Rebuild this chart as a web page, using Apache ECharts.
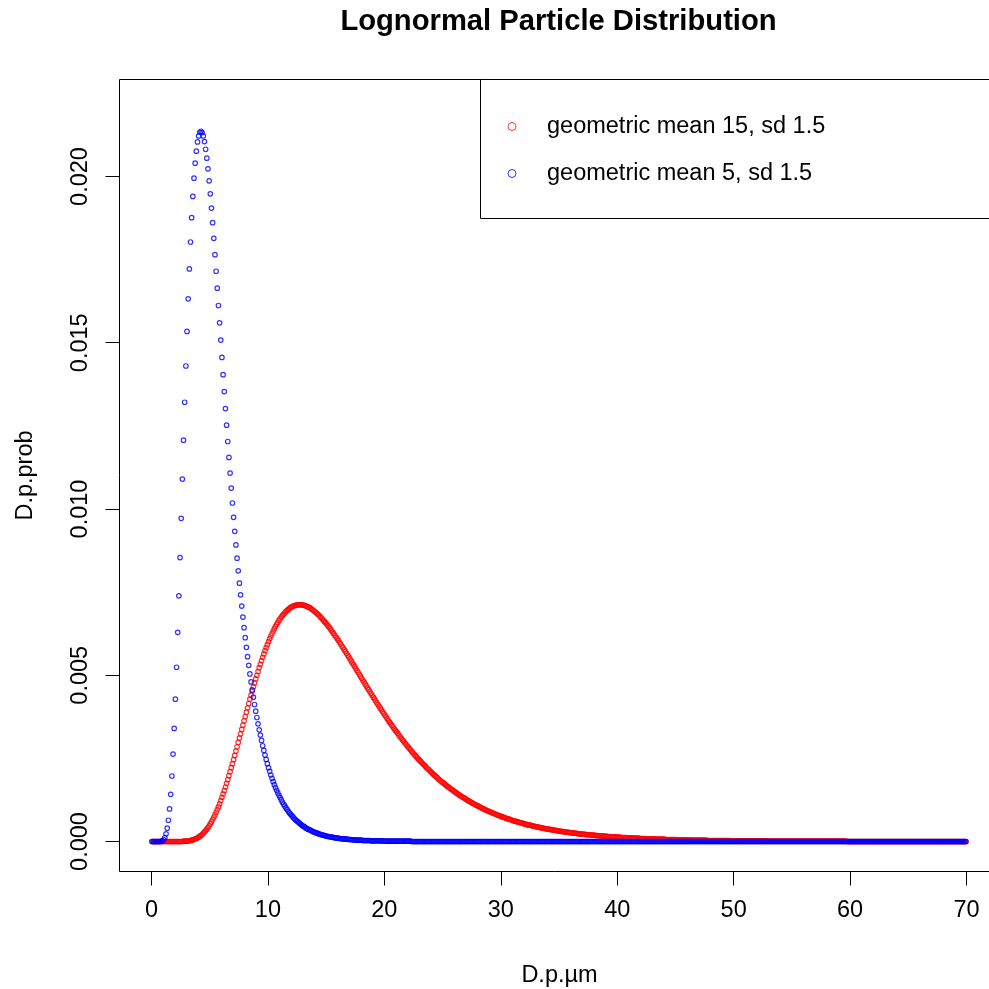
<!DOCTYPE html>
<html><head><meta charset="utf-8">
<script src="https://cdn.jsdelivr.net/npm/echarts@6/dist/echarts.min.js"></script>
<style>html,body{margin:0;padding:0;background:#fff}#c{width:989px;height:989px}</style>
</head><body><div id="c"></div>
<script>
const titleText = 'Lognormal Particle Distribution';
const seriesNames = ['geometric mean 15, sd 1.5', 'geometric mean 5, sd 1.5'];
const xName = 'D.p.\u00b5m';
const yName = 'D.p.prob';
const xTicks = [0, 10, 20, 30, 40, 50, 60, 70];
const yTicks = [0, 0.005, 0.010, 0.015, 0.020];

const xs = [
0.05,0.15,0.25,0.35,0.45,0.55,0.65,0.75,0.85,0.95,
1.05,1.15,1.25,1.35,1.45,1.55,1.65,1.75,1.85,1.95,
2.05,2.15,2.25,2.35,2.45,2.55,2.65,2.75,2.85,2.95,
3.05,3.15,3.25,3.35,3.45,3.55,3.65,3.75,3.85,3.95,
4.05,4.15,4.25,4.35,4.45,4.55,4.65,4.75,4.85,4.95,
5.05,5.15,5.25,5.35,5.45,5.55,5.65,5.75,5.85,5.95,
6.05,6.15,6.25,6.35,6.45,6.55,6.65,6.75,6.85,6.95,
7.05,7.15,7.25,7.35,7.45,7.55,7.65,7.75,7.85,7.95,
8.05,8.15,8.25,8.35,8.45,8.55,8.65,8.75,8.85,8.95,
9.05,9.15,9.25,9.35,9.45,9.55,9.65,9.75,9.85,9.95,
10.05,10.15,10.25,10.35,10.45,10.55,10.65,10.75,10.85,10.95,
11.05,11.15,11.25,11.35,11.45,11.55,11.65,11.75,11.85,11.95,
12.05,12.15,12.25,12.35,12.45,12.55,12.65,12.75,12.85,12.95,
13.05,13.15,13.25,13.35,13.45,13.55,13.65,13.75,13.85,13.95,
14.05,14.15,14.25,14.35,14.45,14.55,14.65,14.75,14.85,14.95,
15.05,15.15,15.25,15.35,15.45,15.55,15.65,15.75,15.85,15.95,
16.05,16.15,16.25,16.35,16.45,16.55,16.65,16.75,16.85,16.95,
17.05,17.15,17.25,17.35,17.45,17.55,17.65,17.75,17.85,17.95,
18.05,18.15,18.25,18.35,18.45,18.55,18.65,18.75,18.85,18.95,
19.05,19.15,19.25,19.35,19.45,19.55,19.65,19.75,19.85,19.95,
20.05,20.15,20.25,20.35,20.45,20.55,20.65,20.75,20.85,20.95,
21.05,21.15,21.25,21.35,21.45,21.55,21.65,21.75,21.85,21.95,
22.05,22.15,22.25,22.35,22.45,22.55,22.65,22.75,22.85,22.95,
23.05,23.15,23.25,23.35,23.45,23.55,23.65,23.75,23.85,23.95,
24.05,24.15,24.25,24.35,24.45,24.55,24.65,24.75,24.85,24.95,
25.05,25.15,25.25,25.35,25.45,25.55,25.65,25.75,25.85,25.95,
26.05,26.15,26.25,26.35,26.45,26.55,26.65,26.75,26.85,26.95,
27.05,27.15,27.25,27.35,27.45,27.55,27.65,27.75,27.85,27.95,
28.05,28.15,28.25,28.35,28.45,28.55,28.65,28.75,28.85,28.95,
29.05,29.15,29.25,29.35,29.45,29.55,29.65,29.75,29.85,29.95,
30.05,30.15,30.25,30.35,30.45,30.55,30.65,30.75,30.85,30.95,
31.05,31.15,31.25,31.35,31.45,31.55,31.65,31.75,31.85,31.95,
32.05,32.15,32.25,32.35,32.45,32.55,32.65,32.75,32.85,32.95,
33.05,33.15,33.25,33.35,33.45,33.55,33.65,33.75,33.85,33.95,
34.05,34.15,34.25,34.35,34.45,34.55,34.65,34.75,34.85,34.95,
35.05,35.15,35.25,35.35,35.45,35.55,35.65,35.75,35.85,35.95,
36.05,36.15,36.25,36.35,36.45,36.55,36.65,36.75,36.85,36.95,
37.05,37.15,37.25,37.35,37.45,37.55,37.65,37.75,37.85,37.95,
38.05,38.15,38.25,38.35,38.45,38.55,38.65,38.75,38.85,38.95,
39.05,39.15,39.25,39.35,39.45,39.55,39.65,39.75,39.85,39.95,
40.05,40.15,40.25,40.35,40.45,40.55,40.65,40.75,40.85,40.95,
41.05,41.15,41.25,41.35,41.45,41.55,41.65,41.75,41.85,41.95,
42.05,42.15,42.25,42.35,42.45,42.55,42.65,42.75,42.85,42.95,
43.05,43.15,43.25,43.35,43.45,43.55,43.65,43.75,43.85,43.95,
44.05,44.15,44.25,44.35,44.45,44.55,44.65,44.75,44.85,44.95,
45.05,45.15,45.25,45.35,45.45,45.55,45.65,45.75,45.85,45.95,
46.05,46.15,46.25,46.35,46.45,46.55,46.65,46.75,46.85,46.95,
47.05,47.15,47.25,47.35,47.45,47.55,47.65,47.75,47.85,47.95,
48.05,48.15,48.25,48.35,48.45,48.55,48.65,48.75,48.85,48.95,
49.05,49.15,49.25,49.35,49.45,49.55,49.65,49.75,49.85,49.95,
50.05,50.15,50.25,50.35,50.45,50.55,50.65,50.75,50.85,50.95,
51.05,51.15,51.25,51.35,51.45,51.55,51.65,51.75,51.85,51.95,
52.05,52.15,52.25,52.35,52.45,52.55,52.65,52.75,52.85,52.95,
53.05,53.15,53.25,53.35,53.45,53.55,53.65,53.75,53.85,53.95,
54.05,54.15,54.25,54.35,54.45,54.55,54.65,54.75,54.85,54.95,
55.05,55.15,55.25,55.35,55.45,55.55,55.65,55.75,55.85,55.95,
56.05,56.15,56.25,56.35,56.45,56.55,56.65,56.75,56.85,56.95,
57.05,57.15,57.25,57.35,57.45,57.55,57.65,57.75,57.85,57.95,
58.05,58.15,58.25,58.35,58.45,58.55,58.65,58.75,58.85,58.95,
59.05,59.15,59.25,59.35,59.45,59.55,59.65,59.75,59.85,59.95,
60.05,60.15,60.25,60.35,60.45,60.55,60.65,60.75,60.85,60.95,
61.05,61.15,61.25,61.35,61.45,61.55,61.65,61.75,61.85,61.95,
62.05,62.15,62.25,62.35,62.45,62.55,62.65,62.75,62.85,62.95,
63.05,63.15,63.25,63.35,63.45,63.55,63.65,63.75,63.85,63.95,
64.05,64.15,64.25,64.35,64.45,64.55,64.65,64.75,64.85,64.95,
65.05,65.15,65.25,65.35,65.45,65.55,65.65,65.75,65.85,65.95,
66.05,66.15,66.25,66.35,66.45,66.55,66.65,66.75,66.85,66.95,
67.05,67.15,67.25,67.35,67.45,67.55,67.65,67.75,67.85,67.95,
68.05,68.15,68.25,68.35,68.45,68.55,68.65,68.75,68.85,68.95,
69.05,69.15,69.25,69.35,69.45,69.55,69.65,69.75,69.85,69.95
];

const redY = [
/* 0 */ 0,0,0,0,0,0,0,0,0,0,
/* 1 */ 0,0,0,0,0,0,0,0,0,0,
/* 2 */ 0,0,0,0,0,0,0,0.00001,0.00001,0.00001,
/* 3 */ 0.00001,0.00002,0.00002,0.00003,0.00004,0.00005,0.00006,0.00008,0.00009,0.00011,
/* 4 */ 0.00013,0.00016,0.00018,0.00021,0.00025,0.00029,0.00033,0.00037,0.00042,0.00047,
/* 5 */ 0.00053,0.00059,0.00066,0.00073,0.00080,0.00088,0.00096,0.00104,0.00113,0.00123,
/* 6 */ 0.00133,0.00143,0.00153,0.00164,0.00175,0.00186,0.00198,0.00210,0.00222,0.00234,
/* 7 */ 0.00246,0.00259,0.00272,0.00285,0.00298,0.00311,0.00324,0.00337,0.00350,0.00363,
/* 8 */ 0.00376,0.00389,0.00402,0.00415,0.00428,0.00440,0.00453,0.00465,0.00477,0.00489,
/* 9 */ 0.00500,0.00511,0.00523,0.00533,0.00544,0.00554,0.00564,0.00574,0.00583,0.00592,
/* 10 */ 0.00601,0.00610,0.00618,0.00625,0.00633,0.00640,0.00647,0.00653,0.00659,0.00665,
/* 11 */ 0.00670,0.00675,0.00680,0.00684,0.00688,0.00692,0.00695,0.00698,0.00701,0.00704,
/* 12 */ 0.00706,0.00708,0.00709,0.00710,0.00711,0.00712,0.00712,0.00712,0.00712,0.00711,
/* 13 */ 0.00711,0.00710,0.00709,0.00707,0.00706,0.00704,0.00702,0.00699,0.00697,0.00694,
/* 14 */ 0.00691,0.00688,0.00685,0.00682,0.00678,0.00674,0.00670,0.00666,0.00662,0.00658,
/* 15 */ 0.00654,0.00649,0.00645,0.00640,0.00635,0.00630,0.00625,0.00620,0.00615,0.00610,
/* 16 */ 0.00605,0.00599,0.00594,0.00588,0.00583,0.00577,0.00572,0.00566,0.00560,0.00555,
/* 17 */ 0.00549,0.00543,0.00537,0.00532,0.00526,0.00520,0.00514,0.00509,0.00503,0.00497,
/* 18 */ 0.00491,0.00485,0.00480,0.00474,0.00468,0.00462,0.00457,0.00451,0.00445,0.00440,
/* 19 */ 0.00434,0.00429,0.00423,0.00417,0.00412,0.00407,0.00401,0.00396,0.00390,0.00385,
/* 20 */ 0.00380,0.00375,0.00369,0.00364,0.00359,0.00354,0.00349,0.00344,0.00339,0.00334,
/* 21 */ 0.00330,0.00325,0.00320,0.00315,0.00311,0.00306,0.00302,0.00297,0.00293,0.00288,
/* 22 */ 0.00284,0.00280,0.00276,0.00271,0.00267,0.00263,0.00259,0.00255,0.00251,0.00247,
/* 23 */ 0.00243,0.00240,0.00236,0.00232,0.00229,0.00225,0.00221,0.00218,0.00215,0.00211,
/* 24 */ 0.00208,0.00204,0.00201,0.00198,0.00195,0.00192,0.00188,0.00185,0.00182,0.00179,
/* 25 */ 0.00177,0.00174,0.00171,0.00168,0.00165,0.00163,0.00160,0.00157,0.00155,0.00152,
/* 26 */ 0.00150,0.00147,0.00145,0.00142,0.00140,0.00137,0.00135,0.00133,0.00131,0.00129,
/* 27 */ 0.00126,0.00124,0.00122,0.00120,0.00118,0.00116,0.00114,0.00112,0.00110,0.00108,
/* 28 */ 0.00107,0.00105,0.00103,0.00101,0.00099,0.00098,0.00096,0.00094,0.00093,0.00091,
/* 29 */ 0.00090,0.00088,0.00087,0.00085,0.00084,0.00082,0.00081,0.00079,0.00078,0.00077,
/* 30 */ 0.00075,0.00074,0.00073,0.00072,0.00070,0.00069,0.00068,0.00067,0.00066,0.00064,
/* 31 */ 0.00063,0.00062,0.00061,0.00060,0.00059,0.00058,0.00057,0.00056,0.00055,0.00054,
/* 32 */ 0.00053,0.00052,0.00051,0.00050,0.00050,0.00049,0.00048,0.00047,0.00046,0.00045,
/* 33 */ 0.00045,0.00044,0.00043,0.00042,0.00042,0.00041,0.00040,0.00039,0.00039,0.00038,
/* 34 */ 0.00037,0.00037,0.00036,0.00036,0.00035,0.00034,0.00034,0.00033,0.00033,0.00032,
/* 35 */ 0.00031,0.00031,0.00030,0.00030,0.00029,0.00029,0.00028,0.00028,0.00027,0.00027,
/* 36 */ 0.00026,0.00026,0.00025,0.00025,0.00025,0.00024,0.00024,0.00023,0.00023,0.00022,
/* 37 */ 0.00022,0.00022,0.00021,0.00021,0.00021,0.00020,0.00020,0.00020,0.00019,0.00019,
/* 38 */ 0.00019,0.00018,0.00018,0.00018,0.00017,0.00017,0.00017,0.00016,0.00016,0.00016,
/* 39 */ 0.00016,0.00015,0.00015,0.00015,0.00015,0.00014,0.00014,0.00014,0.00014,0.00013,
/* 40 */ 0.00013,0.00013,0.00013,0.00012,0.00012,0.00012,0.00012,0.00012,0.00011,0.00011,
/* 41 */ 0.00011,0.00011,0.00011,0.00010,0.00010,0.00010,0.00010,0.00010,0.00010,0.00009,
/* 42 */ 0.00009,0.00009,0.00009,0.00009,0.00009,0.00008,0.00008,0.00008,0.00008,0.00008,
/* 43 */ 0.00008,0.00008,0.00008,0.00007,0.00007,0.00007,0.00007,0.00007,0.00007,0.00007,
/* 44 */ 0.00007,0.00006,0.00006,0.00006,0.00006,0.00006,0.00006,0.00006,0.00006,0.00006,
/* 45 */ 0.00006,0.00005,0.00005,0.00005,0.00005,0.00005,0.00005,0.00005,0.00005,0.00005,
/* 46 */ 0.00005,0.00005,0.00004,0.00004,0.00004,0.00004,0.00004,0.00004,0.00004,0.00004,
/* 47 */ 0.00004,0.00004,0.00004,0.00004,0.00004,0.00004,0.00004,0.00003,0.00003,0.00003,
/* 48 */ 0.00003,0.00003,0.00003,0.00003,0.00003,0.00003,0.00003,0.00003,0.00003,0.00003,
/* 49 */ 0.00003,0.00003,0.00003,0.00003,0.00003,0.00003,0.00003,0.00002,0.00002,0.00002,
/* 50 */ 0.00002,0.00002,0.00002,0.00002,0.00002,0.00002,0.00002,0.00002,0.00002,0.00002,
/* 51 */ 0.00002,0.00002,0.00002,0.00002,0.00002,0.00002,0.00002,0.00002,0.00002,0.00002,
/* 52 */ 0.00002,0.00002,0.00002,0.00002,0.00002,0.00002,0.00002,0.00002,0.00002,0.00001,
/* 53 */ 0.00001,0.00001,0.00001,0.00001,0.00001,0.00001,0.00001,0.00001,0.00001,0.00001,
/* 54 */ 0.00001,0.00001,0.00001,0.00001,0.00001,0.00001,0.00001,0.00001,0.00001,0.00001,
/* 55 */ 0.00001,0.00001,0.00001,0.00001,0.00001,0.00001,0.00001,0.00001,0.00001,0.00001,
/* 56 */ 0.00001,0.00001,0.00001,0.00001,0.00001,0.00001,0.00001,0.00001,0.00001,0.00001,
/* 57 */ 0.00001,0.00001,0.00001,0.00001,0.00001,0.00001,0.00001,0.00001,0.00001,0.00001,
/* 58 */ 0.00001,0.00001,0.00001,0.00001,0.00001,0.00001,0.00001,0.00001,0.00001,0.00001,
/* 59 */ 0.00001,0.00001,0.00001,0.00001,0.00001,0.00001,0.00001,0,0,0,
/* 60 */ 0,0,0,0,0,0,0,0,0,0,
/* 61 */ 0,0,0,0,0,0,0,0,0,0,
/* 62 */ 0,0,0,0,0,0,0,0,0,0,
/* 63 */ 0,0,0,0,0,0,0,0,0,0,
/* 64 */ 0,0,0,0,0,0,0,0,0,0,
/* 65 */ 0,0,0,0,0,0,0,0,0,0,
/* 66 */ 0,0,0,0,0,0,0,0,0,0,
/* 67 */ 0,0,0,0,0,0,0,0,0,0,
/* 68 */ 0,0,0,0,0,0,0,0,0,0,
/* 69 */ 0,0,0,0,0,0,0,0,0,0
];

const blueY = [
/* 0 */ 0,0,0,0,0,0,0,0,0.00001,0.00002,
/* 1 */ 0.00006,0.00012,0.00023,0.00040,0.00064,0.00098,0.00142,0.00197,0.00263,0.00340,
/* 2 */ 0.00428,0.00524,0.00629,0.00739,0.00854,0.00972,0.01090,0.01207,0.01321,0.01430,
/* 3 */ 0.01534,0.01632,0.01722,0.01803,0.01876,0.01940,0.01995,0.02040,0.02076,0.02104,
/* 4 */ 0.02122,0.02133,0.02136,0.02132,0.02122,0.02105,0.02082,0.02055,0.02023,0.01987,
/* 5 */ 0.01948,0.01905,0.01861,0.01814,0.01765,0.01715,0.01664,0.01612,0.01560,0.01508,
/* 6 */ 0.01456,0.01404,0.01353,0.01302,0.01252,0.01203,0.01155,0.01108,0.01063,0.01018,
/* 7 */ 0.00975,0.00933,0.00892,0.00852,0.00814,0.00777,0.00742,0.00708,0.00675,0.00643,
/* 8 */ 0.00613,0.00584,0.00556,0.00530,0.00504,0.00480,0.00456,0.00434,0.00412,0.00392,
/* 9 */ 0.00373,0.00354,0.00336,0.00320,0.00304,0.00288,0.00274,0.00260,0.00247,0.00234,
/* 10 */ 0.00222,0.00211,0.00200,0.00190,0.00180,0.00171,0.00162,0.00154,0.00146,0.00139,
/* 11 */ 0.00132,0.00125,0.00118,0.00112,0.00107,0.00101,0.00096,0.00091,0.00086,0.00082,
/* 12 */ 0.00078,0.00074,0.00070,0.00066,0.00063,0.00060,0.00057,0.00054,0.00051,0.00048,
/* 13 */ 0.00046,0.00044,0.00041,0.00039,0.00037,0.00035,0.00034,0.00032,0.00030,0.00029,
/* 14 */ 0.00027,0.00026,0.00025,0.00023,0.00022,0.00021,0.00020,0.00019,0.00018,0.00017,
/* 15 */ 0.00016,0.00015,0.00015,0.00014,0.00013,0.00013,0.00012,0.00011,0.00011,0.00010,
/* 16 */ 0.00010,0.00009,0.00009,0.00008,0.00008,0.00008,0.00007,0.00007,0.00007,0.00006,
/* 17 */ 0.00006,0.00006,0.00005,0.00005,0.00005,0.00005,0.00004,0.00004,0.00004,0.00004,
/* 18 */ 0.00004,0.00003,0.00003,0.00003,0.00003,0.00003,0.00003,0.00003,0.00002,0.00002,
/* 19 */ 0.00002,0.00002,0.00002,0.00002,0.00002,0.00002,0.00002,0.00002,0.00002,0.00001,
/* 20 */ 0.00001,0.00001,0.00001,0.00001,0.00001,0.00001,0.00001,0.00001,0.00001,0.00001,
/* 21 */ 0.00001,0.00001,0.00001,0.00001,0.00001,0.00001,0.00001,0.00001,0.00001,0.00001,
/* 22 */ 0.00001,0.00001,0.00001,0,0,0,0,0,0,0,
/* 23 */ 0,0,0,0,0,0,0,0,0,0,
/* 24 */ 0,0,0,0,0,0,0,0,0,0,
/* 25 */ 0,0,0,0,0,0,0,0,0,0,
/* 26 */ 0,0,0,0,0,0,0,0,0,0,
/* 27 */ 0,0,0,0,0,0,0,0,0,0,
/* 28 */ 0,0,0,0,0,0,0,0,0,0,
/* 29 */ 0,0,0,0,0,0,0,0,0,0,
/* 30 */ 0,0,0,0,0,0,0,0,0,0,
/* 31 */ 0,0,0,0,0,0,0,0,0,0,
/* 32 */ 0,0,0,0,0,0,0,0,0,0,
/* 33 */ 0,0,0,0,0,0,0,0,0,0,
/* 34 */ 0,0,0,0,0,0,0,0,0,0,
/* 35 */ 0,0,0,0,0,0,0,0,0,0,
/* 36 */ 0,0,0,0,0,0,0,0,0,0,
/* 37 */ 0,0,0,0,0,0,0,0,0,0,
/* 38 */ 0,0,0,0,0,0,0,0,0,0,
/* 39 */ 0,0,0,0,0,0,0,0,0,0,
/* 40 */ 0,0,0,0,0,0,0,0,0,0,
/* 41 */ 0,0,0,0,0,0,0,0,0,0,
/* 42 */ 0,0,0,0,0,0,0,0,0,0,
/* 43 */ 0,0,0,0,0,0,0,0,0,0,
/* 44 */ 0,0,0,0,0,0,0,0,0,0,
/* 45 */ 0,0,0,0,0,0,0,0,0,0,
/* 46 */ 0,0,0,0,0,0,0,0,0,0,
/* 47 */ 0,0,0,0,0,0,0,0,0,0,
/* 48 */ 0,0,0,0,0,0,0,0,0,0,
/* 49 */ 0,0,0,0,0,0,0,0,0,0,
/* 50 */ 0,0,0,0,0,0,0,0,0,0,
/* 51 */ 0,0,0,0,0,0,0,0,0,0,
/* 52 */ 0,0,0,0,0,0,0,0,0,0,
/* 53 */ 0,0,0,0,0,0,0,0,0,0,
/* 54 */ 0,0,0,0,0,0,0,0,0,0,
/* 55 */ 0,0,0,0,0,0,0,0,0,0,
/* 56 */ 0,0,0,0,0,0,0,0,0,0,
/* 57 */ 0,0,0,0,0,0,0,0,0,0,
/* 58 */ 0,0,0,0,0,0,0,0,0,0,
/* 59 */ 0,0,0,0,0,0,0,0,0,0,
/* 60 */ 0,0,0,0,0,0,0,0,0,0,
/* 61 */ 0,0,0,0,0,0,0,0,0,0,
/* 62 */ 0,0,0,0,0,0,0,0,0,0,
/* 63 */ 0,0,0,0,0,0,0,0,0,0,
/* 64 */ 0,0,0,0,0,0,0,0,0,0,
/* 65 */ 0,0,0,0,0,0,0,0,0,0,
/* 66 */ 0,0,0,0,0,0,0,0,0,0,
/* 67 */ 0,0,0,0,0,0,0,0,0,0,
/* 68 */ 0,0,0,0,0,0,0,0,0,0,
/* 69 */ 0,0,0,0,0,0,0,0,0,0
];

const FONT = '"Liberation Sans", Arial, Helvetica, sans-serif';
const chart = echarts.init(document.getElementById('c'), null, { renderer: 'canvas' });

function pairs(ys) { return xs.map((x, i) => [x, ys[i]]); }
function pointStyle(col) {
  return { color: 'rgba(0,0,0,0)', borderColor: col, borderWidth: 1.2 };
}

const option = {
  animation: false,
  backgroundColor: '#ffffff',
  grid: {
    left: 119.5, top: 79.5, width: 880, height: 792,
    show: true, borderColor: '#000', borderWidth: 1, backgroundColor: 'rgba(0,0,0,0)',
    containLabel: false, outerBoundsMode: 'none'
  },
  xAxis: {
    type: 'value', min: -2.7485, max: 72.8344,
    axisLine: { show: false, onZero: false }, splitLine: { show: false },
    axisTick: { show: true, inside: false, length: 14, customValues: xTicks, lineStyle: { color: '#000', width: 1 } },
    axisLabel: { customValues: xTicks, margin: 27, fontSize: 23.5, color: '#000', fontFamily: FONT, formatter: v => String(v) },
    name: xName, nameLocation: 'middle', nameGap: 92,
    nameTextStyle: { fontSize: 23.5, color: '#000', fontFamily: FONT }
  },
  yAxis: {
    type: 'value', min: -0.000902, max: 0.022917,
    axisLine: { show: false, onZero: false }, splitLine: { show: false },
    axisTick: { show: true, inside: false, length: 14, customValues: yTicks, lineStyle: { color: '#000', width: 1 } },
    axisLabel: { customValues: yTicks, rotate: 90, margin: 27, fontSize: 23.5, color: '#000', fontFamily: FONT, formatter: v => v.toFixed(3) },
    name: yName, nameLocation: 'middle', nameGap: 82,
    nameTextStyle: { fontSize: 23.5, color: '#000', fontFamily: FONT }
  },
  legend: {
    show: true, orient: 'vertical', left: 480.5, top: 79.5,
    padding: [35, 173.5, 33, 27], itemGap: 23, itemWidth: 60, itemHeight: 8,
    borderColor: '#000', borderWidth: 1, backgroundColor: '#fff',
    selectedMode: false,
    textStyle: { fontSize: 23.5, color: '#000', fontFamily: FONT, lineHeight: 24 },
    data: [
      { name: seriesNames[0], icon: 'circle', itemStyle: { color: 'rgba(0,0,0,0)', borderColor: '#ff0000', borderWidth: 1 } },
      { name: seriesNames[1], icon: 'circle', itemStyle: { color: 'rgba(0,0,0,0)', borderColor: '#0000ff', borderWidth: 1 } }
    ]
  },
  graphic: [{
    type: 'text', x: 558.5, y: 22,
    style: { text: titleText, fontSize: 29.2, fontWeight: 'bold', fontFamily: FONT, fill: '#000', align: 'center', verticalAlign: 'middle' }
  }],
  series: [
    { type: 'scatter', name: seriesNames[0], data: pairs(redY), symbol: 'circle', symbolSize: 4.5,
      itemStyle: pointStyle('#ff0000'), emphasis: { disabled: true }, silent: true },
    { type: 'scatter', name: seriesNames[1], data: pairs(blueY), symbol: 'circle', symbolSize: 4.5,
      itemStyle: pointStyle('#0000ff'), emphasis: { disabled: true }, silent: true }
  ]
};
chart.setOption(option);
</script>
</body></html>
